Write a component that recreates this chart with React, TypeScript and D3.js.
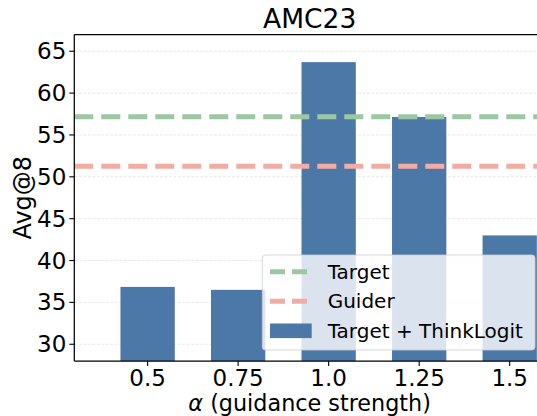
import React from "react";
import * as d3 from "d3";

const categories = ["0.5", "0.75", "1.0", "1.25", "1.5"];
const thinkLogitValues = [36.85, 36.5, 63.7, 57.15, 43.0];
const targetValue = 57.19;
const guiderValue = 51.25;
const yTicks = [30, 35, 40, 45, 50, 55, 60, 65];
const legendLabels = ["Target", "Guider", "Target + ThinkLogit"];

const W = 537;
const H = 416;
const L = 74.3;
const R = 545;
const T = 34.5;
const B = 361;

const BAR = "#4c78a8";
const GREEN = "#9cc7a3";
const PINK = "#f3aca4";
const FONT = "'DejaVu Sans', sans-serif";

export default function App() {
  const x = d3.scaleLinear().domain([-0.81, 4.39]).range([L, R]);
  const y = d3.scaleLinear().domain([28, 67]).range([B, T]);
  const bw = x(0.6) - x(0);
  const legX = 262.3;
  const legY = 255;
  const legW = 535 - legX;
  const legH = 350 - legY;
  const rows = [271.7, 301.2, 330.8];
  return (
    <svg width={W} height={H} style={{ position: "absolute", left: 0, top: 0, background: "#fff" }}>
      <defs>
        <clipPath id="plot">
          <rect x={L} y={T} width={R - L} height={B - T} />
        </clipPath>
      </defs>
      <text x={(L + R) / 2} y={28.3} textAnchor="middle" fontFamily={FONT} fontSize={26.5} fill="#000">AMC23</text>
      {yTicks.map((t) => (
        <line key={"g" + t} x1={L} x2={R} y1={y(t)} y2={y(t)} stroke="#e2e2e2" strokeWidth={0.8} strokeDasharray="3 1.5" />
      ))}
      <g clipPath="url(#plot)">
        {categories.map((c, i) => (
          <rect key={c} x={x(i) - bw / 2} y={y(thinkLogitValues[i])} width={bw} height={B - y(thinkLogitValues[i])} fill={BAR} />
        ))}
        <line x1={L} x2={R} y1={y(targetValue)} y2={y(targetValue)} stroke={GREEN} strokeWidth={5} strokeDasharray="19 8" />
        <line x1={L} x2={R} y1={y(guiderValue)} y2={y(guiderValue)} stroke={PINK} strokeWidth={5} strokeDasharray="19 8" />
      </g>
      {/* legend */}
      <rect x={legX} y={legY} width={legW} height={legH} rx={3} fill="#fff" fillOpacity={0.8} stroke="#cccccc" strokeOpacity={0.8} strokeWidth={1} />
      <line x1={270} x2={311.7} y1={rows[0]} y2={rows[0]} stroke={GREEN} strokeWidth={5} strokeDasharray="15 7" />
      <line x1={270} x2={311.7} y1={rows[1]} y2={rows[1]} stroke={PINK} strokeWidth={5} strokeDasharray="15 7" />
      <rect x={270} y={rows[2] - 7.3} width={41.7} height={14.6} fill={BAR} />
      {legendLabels.map((lab, i) => (
        <text key={lab} x={327.7} y={rows[i] + 7} fontFamily={FONT} fontSize={20} fill="#000">{lab}</text>
      ))}
      {/* spines */}
      <line x1={L} x2={L} y1={T} y2={B} stroke="#000" strokeWidth={1.25} />
      <line x1={L} x2={R} y1={T} y2={T} stroke="#000" strokeWidth={1.25} />
      <line x1={L} x2={R} y1={B} y2={B} stroke="#000" strokeWidth={1.25} />
      {yTicks.map((t) => (
        <g key={"y" + t}>
          <line x1={L - 5} x2={L} y1={y(t)} y2={y(t)} stroke="#000" strokeWidth={1.1} />
          <text x={L - 8} y={y(t) + 8} textAnchor="end" fontFamily={FONT} fontSize={23} fill="#000">{t}</text>
        </g>
      ))}
      {categories.map((c, i) => (
        <g key={"x" + c}>
          <line x1={x(i)} x2={x(i)} y1={B} y2={B + 5} stroke="#000" strokeWidth={1.1} />
          <text x={x(i)} y={385.5} textAnchor="middle" fontFamily={FONT} fontSize={23} fill="#000">{c}</text>
        </g>
      ))}
      <text x={(L + R) / 2} y={411.3} textAnchor="middle" fontFamily={FONT} fontSize={22.3} fill="#000">
        <tspan fontStyle="italic">α</tspan> (guidance strength)
      </text>
      <text transform={`translate(31,${(T + B) / 2}) rotate(-90)`} textAnchor="middle" fontFamily={FONT} fontSize={24} fill="#000">Avg@8</text>
    </svg>
  );
}
